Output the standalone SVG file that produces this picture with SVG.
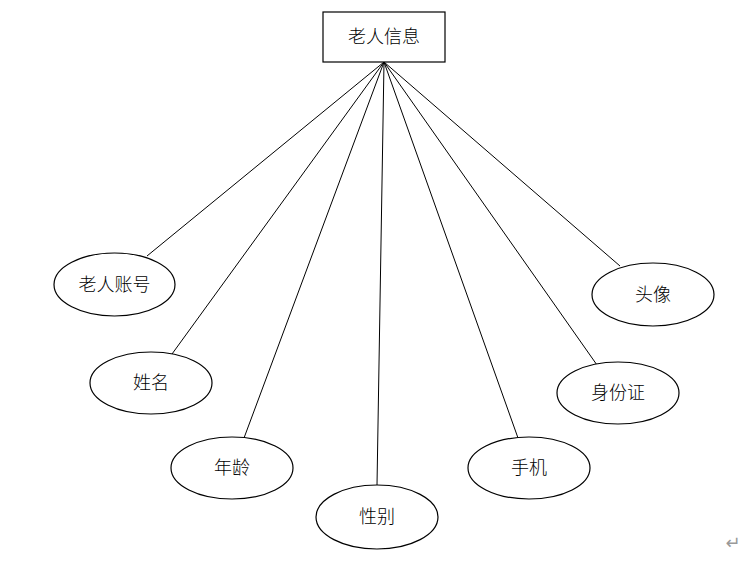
<svg xmlns="http://www.w3.org/2000/svg" width="744" height="563" viewBox="0 0 744 563">
<style>
.n{fill:#fff;stroke:#000;stroke-width:1.2}
.t{font-family:"Liberation Serif","Noto Sans CJK SC",serif;font-size:18px;font-weight:300;fill:#000;text-anchor:middle;dominant-baseline:central}
.c line{stroke:#000;stroke-width:1}
</style>
<rect width="744" height="563" fill="#fff"/>
<g class="c" id="connectors">
<line x1="384" y1="62" x2="147" y2="256"/>
<line x1="384" y1="62" x2="172" y2="354"/>
<line x1="384" y1="62" x2="244" y2="438"/>
<line x1="384" y1="62" x2="377" y2="485"/>
<line x1="384" y1="62" x2="518" y2="438"/>
<line x1="384" y1="62" x2="597" y2="365"/>
<line x1="384" y1="62" x2="620" y2="266"/>
</g>
<g id="root"><rect class="n" x="323" y="12" width="122" height="50"/><text class="t" x="384" y="37">老人信息</text></g>
<g id="n1"><ellipse class="n" cx="114.5" cy="284.5" rx="60.5" ry="31.5"/><text class="t" x="114.5" y="284.5">老人账号</text></g>
<g id="n2"><ellipse class="n" cx="151" cy="383" rx="61" ry="31"/><text class="t" x="151" y="383">姓名</text></g>
<g id="n3"><ellipse class="n" cx="232" cy="468" rx="61" ry="31"/><text class="t" x="232" y="468">年龄</text></g>
<g id="n4"><ellipse class="n" cx="377" cy="517" rx="61" ry="32"/><text class="t" x="377" y="517">性别</text></g>
<g id="n5"><ellipse class="n" cx="529" cy="468" rx="61" ry="31"/><text class="t" x="529" y="468">手机</text></g>
<g id="n6"><ellipse class="n" cx="618" cy="393" rx="61" ry="31"/><text class="t" x="618" y="393">身份证</text></g>
<g id="n7"><ellipse class="n" cx="653" cy="294.5" rx="61" ry="31.5"/><text class="t" x="653" y="294.5">头像</text></g>
<text x="733" y="542" font-family="DejaVu Sans,sans-serif" font-size="18" fill="#999" text-anchor="middle" dominant-baseline="central">↵</text>
</svg>
